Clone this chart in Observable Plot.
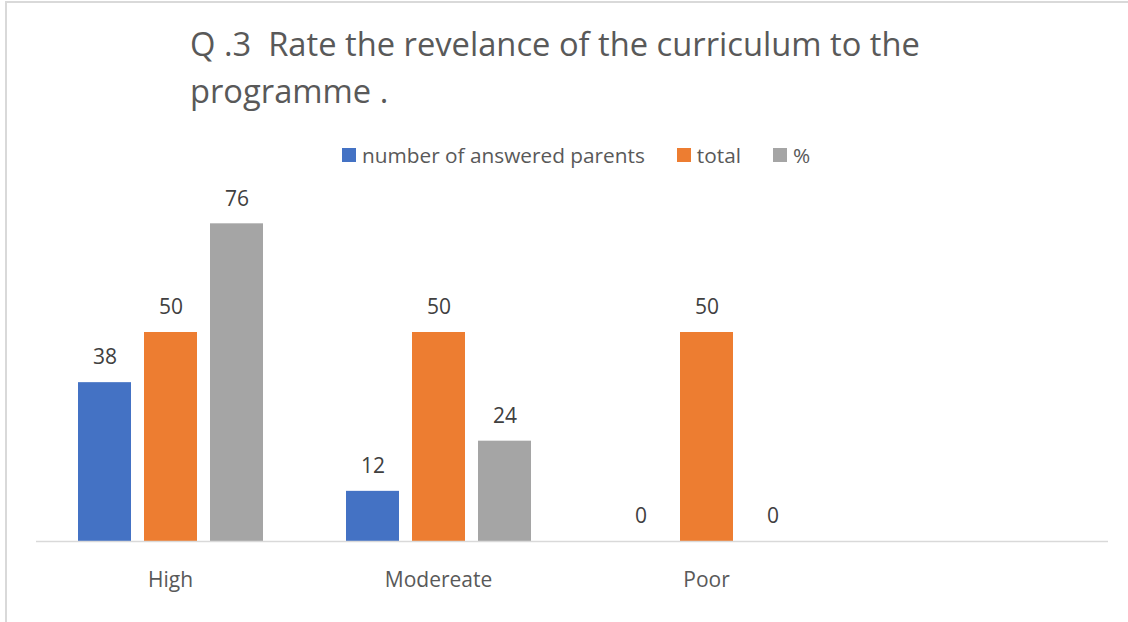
<!DOCTYPE html>
<html>
<head>
<meta charset="utf-8">
<script src="https://cdn.jsdelivr.net/npm/d3@7"></script>
<script src="https://cdn.jsdelivr.net/npm/@observablehq/plot@0.6"></script>
<style>
  html, body { margin: 0; padding: 0; background: #fff; }
  #wrap { position: relative; width: 1128px; height: 622px; overflow: hidden; font-family: "Open Sans", sans-serif; }
  #chart { position: absolute; left: 0; top: 0; }
  #frame { position: absolute; left: 5px; top: 1px; width: 1200px; height: 700px; border-top: 2px solid #d9d9d9; border-left: 2px solid #d9d9d9; box-sizing: border-box; pointer-events: none; }
  #title { position: absolute; left: 190px; top: 20px; font-size: 32.7px; line-height: 47px; color: #595959; white-space: pre; }
  #legend { position: absolute; left: 342px; top: 141px; height: 28px; display: flex; align-items: center; font-size: 20.8px; color: #595959; white-space: pre; }
  .item { display: flex; align-items: center; margin-right: 32px; }
  .sw { width: 14px; height: 14px; margin-right: 6px; }
</style>
</head>
<body>
<div id="wrap">
  <div id="chart"></div>
  <div id="frame"></div>
  <div id="title"></div>
  <div id="legend"></div>
</div>
<script>
const titleLines = ["Q .3  Rate the revelance of the curriculum to the", "programme ."];
const categories = ["High", "Modereate", "Poor", " "];
const seriesNames = ["number of answered parents", "total", "%"];
const answered = [38, 12, 0];
const total = [50, 50, 50];
const percent = [76, 24, 0];
const colors = ["#4472c4", "#ed7d31", "#a5a5a5"];

const valuesBySeries = [answered, total, percent];
const data = [];
categories.slice(0, 3).forEach((c, i) => {
  seriesNames.forEach((s, j) => data.push({cat: c, series: s, value: valuesBySeries[j][i]}));
});
const baseline = categories.map(c => ({cat: c}));

document.getElementById("title").textContent = titleLines.join("\n");

const legend = document.getElementById("legend");
seriesNames.forEach((s, j) => {
  const it = document.createElement("div");
  it.className = "item";
  const sw = document.createElement("span");
  sw.className = "sw";
  sw.style.background = colors[j];
  const tx = document.createElement("span");
  tx.textContent = s;
  it.appendChild(sw); it.appendChild(tx);
  legend.appendChild(it);
});

const chart = Plot.plot({
  width: 1128,
  height: 622,
  marginLeft: 36,
  marginRight: 20,
  marginTop: 206.6,
  marginBottom: 81,
  style: {fontFamily: "Open Sans, sans-serif", background: "white"},
  fx: {domain: categories, padding: 0, label: null, axis: null},
  x: {domain: seriesNames, paddingInner: 0.2, paddingOuter: 0.615, axis: null},
  y: {domain: [0, 80], axis: null},
  color: {domain: seriesNames, range: colors},
  marks: [
    Plot.barY(data, {fx: "cat", x: "series", y: "value", fill: "series"}),
    Plot.ruleY(baseline, {fx: "cat", y: () => 0, stroke: "#d9d9d9", strokeWidth: 1.5}),
    Plot.text(data, {fx: "cat", x: "series", y: "value", text: d => String(d.value), dy: -25, fill: "#404040", fontSize: 21}),
    Plot.axisFx({anchor: "bottom", tickSize: 0, tickPadding: 31, fontSize: 21, color: "#595959", label: null})
  ]
});
document.getElementById("chart").appendChild(chart);
</script>
</body>
</html>
